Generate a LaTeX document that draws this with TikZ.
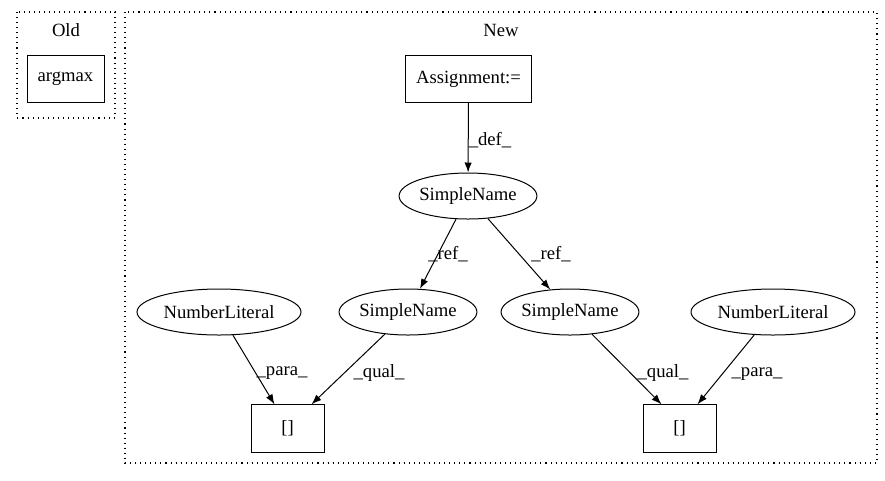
\documentclass[tikz,border=0pt]{standalone}
\usepackage{fontspec}
\setmainfont{Liberation Serif}
\usetikzlibrary{shapes.geometric,arrows.meta}
\tikzset{
  cluster/.style={draw,line width=0.8pt,dash pattern=on 0.8pt off 3pt},
  box/.style={draw,rectangle,line width=0.75pt,minimum height=35.5pt,inner sep=0pt},
  oval/.style={draw,ellipse,line width=0.75pt,minimum height=34.5pt,inner sep=0pt},
  edge/.style={line width=0.75pt,-{Latex[length=7.5pt,width=5.5pt]}},
  lbl/.style={inner sep=0pt}
}
\begin{document}
\begin{tikzpicture}[x=0.75pt,y=-0.75pt,font=\fontsize{14}{16}\selectfont]
  \useasboundingbox (0,0) rectangle (885,480);
  % clusters
  \draw[cluster] (17,12) rectangle (115,118);
  \node (old) at (66,30) {Old};
  \draw[cluster] (125,12) rectangle (877,463);
  \node (new) at (501,30) {New};
  % nodes
  \node[box,minimum width=57.75pt] (argmax) at (65.5,79) {argmax};
  \node[box,minimum width=95pt] (assign) at (468.5,79) {Assignment:=};
  \node[oval,minimum width=93pt] (sn) at (468,196) {SimpleName};
  \node[oval,minimum width=90pt] (snl) at (408,312) {SimpleName};
  \node[oval,minimum width=90pt] (snr) at (570,312) {SimpleName};
  \node[oval,minimum width=123pt] (nll) at (219,312) {NumberLiteral};
  \node[oval,minimum width=123pt] (nlr) at (773,312) {NumberLiteral};
  \node[box,minimum width=54.75pt] (idxl) at (287.5,428.5) {[]};
  \node[box,minimum width=54.75pt] (idxr) at (679.5,428.5) {[]};
  % edges
  \draw[edge] (assign) -- (sn) node[lbl] at (490,140) {\_def\_};
  \draw[edge] (sn) -- (snl) node[lbl] at (448,254) {\_ref\_};
  \draw[edge] (sn) -- (snr) node[lbl] at (551,254) {\_ref\_};
  \draw[edge] (nll) -- ([xshift=-9.75pt]idxl.north) node[lbl] at (282,373) {\_para\_};
  \draw[edge] (snl) -- ([xshift=18pt]idxl.north) node[lbl] at (379,373) {\_qual\_};
  \draw[edge] (snr) -- ([xshift=-13.5pt]idxr.north) node[lbl] at (663,373) {\_qual\_};
  \draw[edge] (nlr) -- ([xshift=13.5pt]idxr.north) node[lbl] at (757,374) {\_para\_};
\end{tikzpicture}
\end{document}
